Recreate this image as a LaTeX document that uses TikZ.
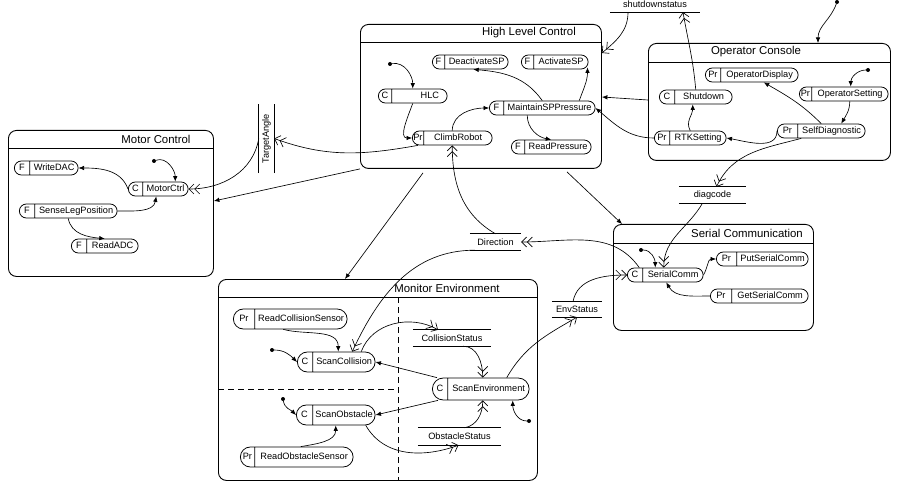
\documentclass[tikz,border=0pt]{standalone}
\usepackage{fontspec}
\setmainfont{Liberation Sans}
\usetikzlibrary{arrows.meta,shapes.multipart,positioning}

\newcommand\pill[4]{\makebox[#1pt]{\strut #2}\nodepart{two}\makebox[#3pt]{\strut #4}}

\tikzset{
  sbox/.style={
    rectangle split,
    rectangle split horizontal,
    rectangle split parts=2,
    draw,
    line width=0.75pt,
    rounded corners=7pt,
    inner xsep=0pt,
    inner ysep=1.5pt,
    anchor=west,
    font=\fontsize{9.2}{11}\selectfont
  },
  bigsbox/.style={
    sbox,
    inner ysep=4.5pt,
    rounded corners=10pt
  },
  container/.style={
    draw,
    line width=0.9pt,
    rounded corners=8pt,
    anchor=north west,
    inner sep=0pt
  },
  boxtitle/.style={
    font=\fontsize{11.4}{13}\selectfont,
    inner sep=1pt
  },
  store/.style={
    minimum height=16pt,
    inner sep=0pt,
    font=\fontsize{9.2}{11}\selectfont,
    append after command={
      (\tikzlastnode.north west) edge[line width=0.75pt] (\tikzlastnode.north east)
      (\tikzlastnode.south west) edge[line width=0.75pt] (\tikzlastnode.south east)}
  },
  storelow/.style={
    minimum height=16pt,
    inner sep=0pt,
    font=\fontsize{9.2}{11}\selectfont,
    append after command={
      (\tikzlastnode.south west) edge[line width=0.75pt] (\tikzlastnode.south east)}
  },
  initdot/.style={
    circle,
    fill,
    inner sep=0pt,
    minimum size=4pt
  },
  flow/.style={-{Latex[length=5.5pt,width=4.5pt]}, line width=0.65pt},
  data/.style={-{Straight Barb[length=5pt,width=10pt]Straight Barb[length=5pt,width=10pt]}, line width=0.65pt}
}

\begin{document}
\begin{tikzpicture}[x=1pt,y=-1pt]
  \useasboundingbox (0,0) rectangle (898,484);

  % containers
  \node[container, minimum width=241pt, minimum height=144pt] (hlcbox) at (360,24) {};
  \node[container, minimum width=242pt, minimum height=117pt] (ocbox) at (648,43) {};
  \node[container, minimum width=205pt, minimum height=146pt] (mcbox) at (8,130) {};
  \node[container, minimum width=319pt, minimum height=201pt] (mebox) at (218,279) {};
  \node[container, minimum width=200pt, minimum height=106pt] (scbox) at (613,224) {};
  \draw[line width=0.9pt] ([yshift=-18pt]hlcbox.north west) -- ([yshift=-18pt]hlcbox.north east);
  \draw[line width=0.9pt] ([yshift=-19pt]ocbox.north west) -- ([yshift=-19pt]ocbox.north east);
  \draw[line width=0.9pt] ([yshift=-18pt]mcbox.north west) -- ([yshift=-18pt]mcbox.north east);
  \draw[line width=0.9pt] ([yshift=-18pt]mebox.north west) -- ([yshift=-18pt]mebox.north east);
  \draw[line width=0.9pt] ([yshift=-19pt]scbox.north west) -- ([yshift=-19pt]scbox.north east);
  \draw[line width=0.8pt, dash pattern=on 6pt off 4pt] ([xshift=180pt,yshift=-18pt]mebox.north west) -- ([xshift=180pt]mebox.south west);
  \draw[line width=0.8pt, dash pattern=on 6pt off 4pt] ([yshift=-110pt]mebox.north west) -- ([xshift=180pt,yshift=-110pt]mebox.north west);

  \node[boxtitle] (hlctitle) at (529,33) {High Level Control};
  \node[boxtitle] (octitle) at (756,52) {Operator Console};
  \node[boxtitle] (mctitle) at (156,139) {Motor Control};
  \node[boxtitle] (metitle) at (447,288) {Monitor Environment};
  \node[boxtitle] (sctitle) at (747,233) {Serial Communication};

  % High Level Control
  \node[sbox] (dsp) at (432,62) {\pill{12}{F}{63}{DeactivateSP}};
  \node[sbox] (asp) at (521,62) {\pill{12}{F}{54}{ActivateSP}};
  \node[sbox] (hlc) at (378,96) {\pill{13}{C}{55}{\hfill HLC\hspace{8pt}}};
  \node[sbox] (msp) at (489,108) {\pill{14}{F}{91}{MaintainSPPressure}};
  \node[sbox] (climb) at (412,138) {\pill{11}{Pr}{68}{ClimbRobot}};
  \node[sbox] (rp) at (511,147) {\pill{13}{F}{66}{ReadPressure}};
  \node[initdot] (ihlc) at (390,64) {};

  % Operator Console
  \node[sbox] (odisp) at (705,75) {\pill{15}{Pr}{77}{OperatorDisplay}};
  \node[sbox] (oset) at (799,94) {\pill{12}{Pr}{76}{OperatorSetting}};
  \node[sbox] (shut) at (659,97) {\pill{15}{C}{57}{Shutdown}};
  \node[sbox] (rtk) at (654,138) {\pill{15}{Pr}{56}{RTKSetting}};
  \node[sbox] (selfd) at (777,131) {\pill{20}{Pr}{67}{SelfDiagnostic}};
  \node[initdot] (ioset) at (868,70) {};
  \node[initdot] (iext) at (837,2) {};

  % Motor Control
  \node[sbox] (wdac) at (14,168) {\pill{15}{F}{48}{WriteDAC}};
  \node[sbox] (mctrl) at (128,189) {\pill{14}{C}{45}{MotorCtrl}};
  \node[sbox] (slp) at (19,211) {\pill{15}{F}{82}{SenseLegPosition}};
  \node[sbox] (radc) at (71,246) {\pill{15}{F}{51}{ReadADC}};
  \node[initdot] (imc) at (154,161) {};

  % Serial Communication
  \node[sbox] (scomm) at (627,275) {\pill{15}{C}{60}{SerialComm}};
  \node[sbox] (put) at (716,259) {\pill{20}{Pr}{71}{PutSerialComm}};
  \node[sbox] (get) at (710,296) {\pill{21}{Pr}{76}{GetSerialComm}};
  \node[initdot] (iscomm) at (641,250) {};

  % Monitor Environment
  \node[bigsbox] (rcs) at (233,319) {\pill{21}{Pr}{92}{ReadCollisionSensor}};
  \node[bigsbox] (scoll) at (297,362) {\pill{15}{C}{62}{ScanCollision}};
  \node[bigsbox] (sobs) at (296,415) {\pill{16}{C}{62}{ScanObstacle}};
  \node[bigsbox] (ros) at (240,457) {\pill{14}{Pr}{98}{ReadObstacleSensor}};
  \node[bigsbox, inner ysep=5.5pt, rounded corners=11pt] (senv) at (432,389) {\pill{15}{C}{81}{ScanEnvironment}};
  \node[initdot] (iscoll) at (272,350) {};
  \node[initdot] (isobs) at (283,399) {};
  \node[initdot] (isenv) at (529,421) {};

  % data stores
  \node[storelow, minimum width=90pt] (shutst) at (655,4) {shutdownstatus};
  \node[store, rotate=90, minimum width=69pt, minimum height=15pt] (targ) at (266.5,138.5) {TargetAngle};
  \node[store, minimum width=67pt] (diag) at (712.5,195) {diagcode};
  \node[store, minimum width=51pt] (dirst) at (495.5,242) {Direction};
  \node[store, minimum width=50pt, minimum height=15pt] (envst) at (577,309.5) {EnvStatus};
  \node[store, minimum width=78pt] (collst) at (452,338) {CollisionStatus};
  \node[store, minimum width=83pt, minimum height=17pt] (obsst) at (459.5,436.5) {ObstacleStatus};

  % High Level Control
  \draw[flow] (ihlc) to[out=10,in=90] (hlc.north);
  \draw[flow] (hlc.south) to[out=-110,in=180] (climb.west);
  \draw[flow] (climb.north) to[out=90,in=180] (msp.west);
  \draw[flow] (msp.north) to[out=125,in=-5] ([xshift=3pt]dsp.south);
  \draw[flow] ([xshift=37pt]msp.north) to[out=70,in=-90] ([xshift=-1pt,yshift=2pt]asp.south east);
  \draw[flow] ([xshift=-15pt]msp.south) to[out=-90,in=170] (rp.north);

  % Operator Console
  \draw[flow] (iext) to[out=-110,in=90] ([xshift=170pt]ocbox.north west);
  \draw[flow] (ioset) to[out=180,in=90] ([xshift=7pt]oset.north);
  \draw[flow] ([xshift=6pt]oset.south) to[out=-90,in=60] ([xshift=20pt]selfd.north);
  \draw[flow] (selfd.north) to[out=135,in=-30] ([xshift=12pt]odisp.south);
  \draw[flow] (selfd.west) to[out=-90,in=-10] (rtk.east);
  \draw[flow] (rtk.north) to[out=120,in=-90] ([xshift=-3pt]shut.south);
  \draw[data] (shut.north) to[out=95,in=-80] ([xshift=28pt]shutst.south);
  \draw[data] ([xshift=-27pt]shutst.south) to[out=-90,in=40] ([yshift=-29pt]hlcbox.north east);
  \draw[flow] ([yshift=-57pt]ocbox.north west) -- ([yshift=-73pt]hlcbox.north east);
  \draw[flow] (rtk.west) to[out=180,in=-40] (msp.east);
  \draw[data] ([xshift=-20pt]selfd.south) to[out=-165,in=65] ([xshift=4pt]diag.north);

  % Serial Communication
  \draw[data] ([xshift=-10pt]diag.south) to[out=-120,in=90] ([xshift=-1.5pt]scomm.north);
  \draw[flow] (iscomm) to[out=0,in=90] ([xshift=-10pt]scomm.north);
  \draw[flow] (scomm.east) to[out=60,in=180] (put.west);
  \draw[flow] (get.west) to[out=180,in=-60] ([xshift=1pt]scomm.south);
  \draw[data] ([xshift=-26pt]scomm.north) to[out=125,in=0] (dirst.east);
  \draw[data] ([xshift=-4pt]envst.north) to[out=80,in=180] (scomm.west);
  \draw[data] (dirst.north) to[out=150,in=-90] (climb.south);
  \draw[data] ([xshift=5pt]dirst.south west) to[out=180,in=65] ([xshift=16pt]scoll.north);

  % Motor Control
  \draw[flow] (imc) to[out=20,in=90] ([xshift=17pt]mctrl.north);
  \draw[flow] (mctrl.west) to[out=110,in=0] (wdac.east);
  \draw[flow] (slp.east) to[out=0,in=-100] ([xshift=-2pt]mctrl.south);
  \draw[flow] (slp.south) to[out=-80,in=175] (radc.north);
  \draw[data] ([xshift=6pt]climb.south west) to[out=-170,in=-20] (targ.south);
  \draw[data] (targ.north) to[out=-100,in=0] (mctrl.east);

  % Monitor Environment
  \draw[flow] (iscoll) to[out=0,in=135] (scoll.west);
  \draw[flow] ([xshift=-7pt]rcs.south) to[out=-15,in=90] ([xshift=2pt]scoll.north);
  \draw[data] ([xshift=25pt]scoll.north) to[out=70,in=150] ([xshift=-14pt]collst.north);
  \draw[data] ([xshift=11pt]collst.south) to[out=0,in=90] ([xshift=2pt]senv.north);
  \draw[flow] ([xshift=5pt]senv.north west) -- (scoll.east);
  \draw[flow] ([xshift=6pt]senv.south west) -- (sobs.east);
  \draw[flow] (isobs) to[out=-80,in=135] (sobs.west);
  \draw[flow] ([xshift=4pt]ros.north) to[out=10,in=-90] (sobs.south);
  \draw[data] ([xshift=30pt]sobs.south) to[out=-60,in=-160] ([xshift=-1pt]obsst.south);
  \draw[data] ([xshift=5pt]obsst.north) to[out=10,in=-90] ([xshift=2pt]senv.south);
  \draw[flow] (isenv) to[out=180,in=-90] ([xshift=32pt]senv.south);
  \draw[data] ([xshift=26pt]senv.north) to[out=60,in=-150] (envst.south);

  % between containers
  \draw[flow] (hlcbox.south west) -- ([yshift=-71pt]mcbox.north east);
  \draw[flow] ([xshift=63pt,yshift=-4pt]hlcbox.south west) -- ([xshift=127pt]mebox.north west);
  \draw[flow] ([xshift=207pt,yshift=-3pt]hlcbox.south west) -- ([xshift=9pt]scbox.north west);
\end{tikzpicture}
\end{document}
